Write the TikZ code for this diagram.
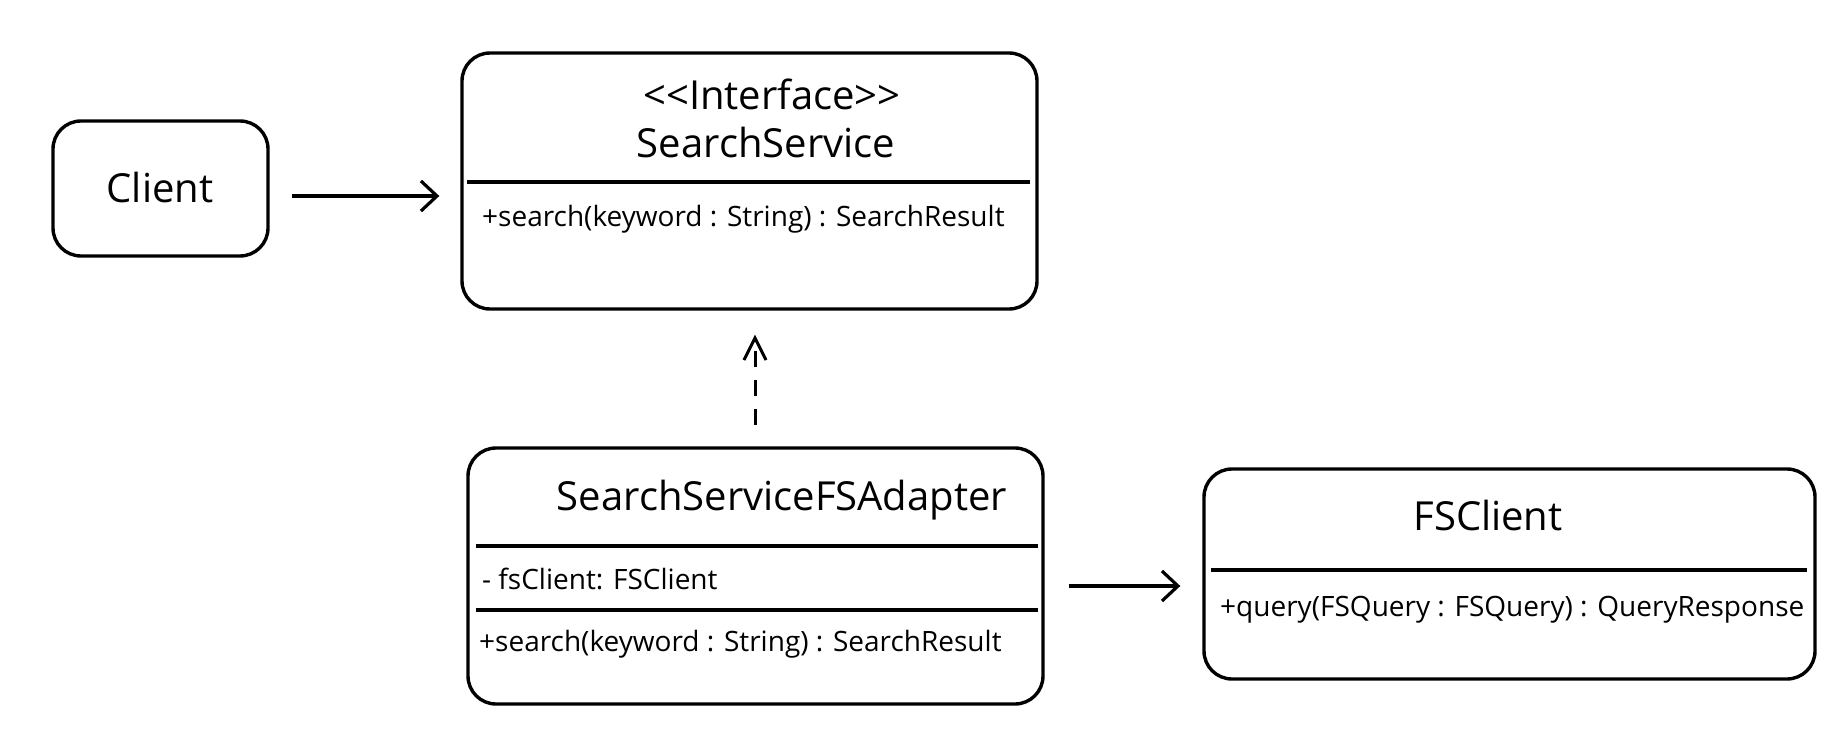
\documentclass[tikz,border=0pt]{standalone}
\usepackage{fontspec}
\setmainfont{Open Sans}
\usetikzlibrary{arrows.meta}
\tikzset{
  umlbox/.style={draw, line width=3.4pt, rounded corners=28pt, inner sep=0pt},
  divider/.style={line width=3.6pt},
  titletext/.style={font=\fontsize{40}{48}\selectfont, inner sep=0pt},
  membertext/.style={font=\fontsize{28}{34}\selectfont, inner sep=0pt, anchor=west},
  assoc/.style={line width=3.6pt, -{Straight Barb[length=16pt,width=30pt,line width=3.2pt]}},
  realize/.style={line width=3pt, dash pattern=on 16pt off 13pt, -{Straight Barb[length=22pt,width=22pt,line width=3pt]}}
}
\begin{document}
\begin{tikzpicture}[x=1pt,y=-1pt]
\useasboundingbox (0,0) rectangle (1844,746);
% boxes
\node[umlbox, minimum width=215pt, minimum height=135pt] (client) at (160.5,188.5) {};
\node[titletext] (clientT) at (160,188) {Client};

\node[umlbox, minimum width=575pt, minimum height=256pt] (ss) at (749.5,181) {};
\node[titletext] (ssI) at (772,94) {{<}{<}Interface{>}{>}};
\node[titletext] (ssN) at (766,143) {SearchService};
\draw[divider] (467,182) coordinate (ssd1) -- (1030,182) coordinate (ssd2);
\node[membertext] (ssM) at (482,219) {+search(keyword : String) : SearchResult};

\node[umlbox, minimum width=575pt, minimum height=256pt] (ad) at (755.5,576) {};
\node[titletext] (adN) at (782,500) {SearchServiceFSAdapter};
\draw[divider] (476,546) coordinate (add1) -- (1038,546) coordinate (add2);
\node[membertext] (adF) at (482,579) {- fsClient: FSClient};
\draw[divider] (476,610) coordinate (add3) -- (1038,610) coordinate (add4);
\node[membertext] (adM) at (479,644) {+search(keyword : String) : SearchResult};

\node[umlbox, minimum width=611pt, minimum height=210pt] (fs) at (1509.5,574) {};
\node[titletext] (fsN) at (1488,515) {FSClient};
\draw[divider] (1211,570) coordinate (fsd1) -- (1807,570) coordinate (fsd2);
\node[membertext] (fsM) at (1220,610) {+query(FSQuery : FSQuery) : QueryResponse};

% connectors
\draw[assoc, shorten <=22pt, shorten >=21pt] (client.east |- 0,196) -- (ss.west |- 0,196);
\draw[realize, shorten <=21pt, shorten >=24pt] (ad.north -| 755,0) -- (ss.south -| 755,0);
\draw[assoc, shorten <=24pt, shorten >=22pt] (ad.east |- 0,586) -- (fs.west |- 0,586);
\end{tikzpicture}
\end{document}
